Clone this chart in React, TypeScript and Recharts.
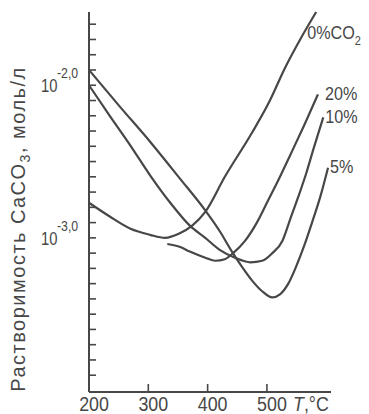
import { LineChart, Line, XAxis, YAxis, Customized } from "recharts";

const INK = "#474747";
const FONT = '"Liberation Sans", Arial, sans-serif';

// temperature, °C
const X_TICKS = [200, 300, 400, 500];
// lg of solubility, mol/l
const Y_TICKS = [
  -4.0, -3.9, -3.8, -3.7, -3.6, -3.5, -3.4, -3.3, -3.2, -3.1, -3.0, -2.9,
  -2.8, -2.7, -2.6, -2.5, -2.4, -2.3, -2.2, -2.1, -2.0, -1.9, -1.8, -1.7,
];
const Y_LABELED = [-3.0, -2.0];
const Y_EXPONENTS = ["-3,0", "-2,0"];

// 0% CO2
const T_0 = [200, 235, 270, 303, 328, 353, 374, 396, 429, 475, 505, 530, 556, 583];
const LG_0 = [-2.87, -2.96, -3.04, -3.08, -3.1, -3.07, -3.02, -2.93, -2.7, -2.41, -2.2, -1.99, -1.8, -1.62];

// 5% CO2
const T_5 = [200, 252, 303, 353, 396, 421, 441, 458, 475, 492, 509, 522, 536, 549, 563, 576, 590, 603];
const LG_5 = [-2.0, -2.24, -2.47, -2.71, -2.92, -3.06, -3.19, -3.29, -3.38, -3.45, -3.49, -3.47, -3.4, -3.29, -3.15, -3.0, -2.83, -2.64];

// 10% CO2
const T_10 = [200, 235, 269, 303, 337, 370, 396, 421, 446, 472, 492, 509, 526, 539, 552, 566, 579, 595];
const LG_10 = [-2.1, -2.3, -2.49, -2.69, -2.87, -3.02, -3.1, -3.18, -3.23, -3.26, -3.25, -3.2, -3.12, -2.98, -2.84, -2.68, -2.51, -2.31];

// 20% CO2
const T_20 = [332, 354, 370, 396, 413, 429, 443, 463, 483, 500, 522, 539, 563, 586];
const LG_20 = [-3.14, -3.16, -3.19, -3.23, -3.25, -3.24, -3.2, -3.12, -3.0, -2.87, -2.7, -2.56, -2.36, -2.16];

const SERIES = [
  { name: "0%", t: T_0, lg: LG_0 },
  { name: "5%", t: T_5, lg: LG_5 },
  { name: "10%", t: T_10, lg: LG_10 },
  { name: "20%", t: T_20, lg: LG_20 },
];

const points = (t: number[], lg: number[]) => t.map((v, i) => ({ t: v, lg: lg[i] }));

// narrow-ish lettering, like the original print
function Txt({ x, y, size, anchor = "start", sx = 0.85, children }: any) {
  return (
    <text
      transform={`translate(${x} ${y}) scale(${sx} 1)`}
      fontSize={size}
      textAnchor={anchor}
      fill={INK}
      fontFamily={FONT}
    >
      {children}
    </text>
  );
}

function YTick({ x, y, payload }: any) {
  const i = Y_LABELED.indexOf(payload.value);
  return (
    <g>
      <line x1={x} x2={x + 7} y1={y} y2={y} stroke={INK} strokeWidth={1.6} />
      {i >= 0 && (
        <>
          <Txt x={x - 48} y={y + 22} size={19} sx={0.78}>10</Txt>
          <Txt x={x - 32} y={y + 8} size={15} sx={0.82}>{Y_EXPONENTS[i]}</Txt>
        </>
      )}
    </g>
  );
}

function XTick({ x, y, payload }: any) {
  return (
    <g>
      {payload.value !== 200 && (
        <line x1={x} x2={x} y1={y} y2={y - 8} stroke={INK} strokeWidth={1.6} />
      )}
      <Txt x={x + 5} y={y + 19} size={21} anchor="middle">
        {payload.value}
      </Txt>
    </g>
  );
}

const endLabel = (text: string, dx: number, dy: number, count: number, sub?: string) =>
  (props: any) => {
    if (props.index !== count - 1) return null;
    return (
      <Txt x={props.x + dx} y={props.y + dy} size={19}>
        {text}
        {sub && <tspan dy={6} fontSize={13}>{sub}</tspan>}
      </Txt>
    );
  };

const LABEL_POS: Record<string, [number, number, string?]> = {
  "0%": [-9, 27, "2"],
  "5%": [2, 5],
  "10%": [2, 6],
  "20%": [7, 6],
};

export default function App() {
  return (
    <div style={{ position: "absolute", left: 0, top: 0, background: "#fff" }}>
      <LineChart width={369} height={414} margin={{ top: 12, right: 38, bottom: 0, left: 0 }}>
        <XAxis
          type="number"
          dataKey="t"
          domain={[200, 608]}
          ticks={X_TICKS}
          height={22}
          tickSize={0}
          tickMargin={0}
          tick={<XTick />}
          axisLine={{ stroke: INK, strokeWidth: 2 }}
          tickLine={false}
        />
        <YAxis
          type="number"
          dataKey="lg"
          domain={[-4.11, -1.62]}
          ticks={Y_TICKS}
          width={89}
          tickSize={0}
          tickMargin={0}
          tick={<YTick />}
          axisLine={{ stroke: INK, strokeWidth: 2 }}
          tickLine={false}
          interval={0}
        />
        {SERIES.map((s) => {
          const [dx, dy, sub] = LABEL_POS[s.name];
          return (
            <Line
              key={s.name}
              data={points(s.t, s.lg)}
              dataKey="lg"
              type="monotone"
              stroke={INK}
              strokeWidth={2.2}
              dot={false}
              isAnimationActive={false}
              label={endLabel(s.name === "0%" ? "0%CO" : s.name, dx, dy, s.t.length, sub)}
            />
          );
        })}
        <Customized
          component={() => (
            <g>
              <Txt x={293} y={411} size={21}>
                <tspan fontStyle="italic">T</tspan>
                <tspan>,°C</tspan>
              </Txt>
              <text
                transform="translate(25 229) rotate(-90)"
                textAnchor="middle"
                fontSize={20}
                letterSpacing={1.5}
                fill={INK}
                fontFamily={FONT}
              >
                Растворимость CaCO
                <tspan dy={5} fontSize={14}>3</tspan>
                <tspan dy={-5}>, моль/л</tspan>
              </text>
            </g>
          )}
        />
      </LineChart>
    </div>
  );
}
